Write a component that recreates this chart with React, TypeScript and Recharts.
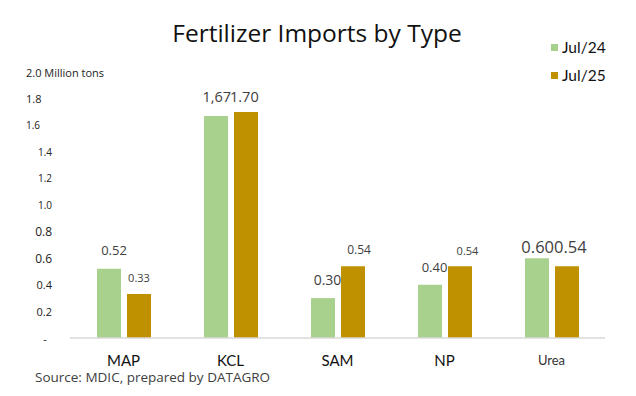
import React from "react";
import { BarChart, Bar, XAxis, YAxis, LabelList } from "recharts";

const categories = ["MAP", "KCL", "SAM", "NP", "Urea"];
const jul24 = [0.52, 1.67, 0.3, 0.4, 0.6];
const jul25 = [0.33, 1.7, 0.54, 0.54, 0.54];
const jul24Labels = ["0.52", "1,67", "0.30", "0.40", "0.60"];
const jul25Labels = ["0.33", "1.70", "0.54", "0.54", "0.54"];
const yTicks = [0, 0.2, 0.4, 0.6, 0.8, 1.0, 1.2, 1.4, 1.6, 1.8, 2.0];
const yTickLabels = ["-", "0.2", "0.4", "0.6", "0.8", "1.0", "1.2", "1.4", "1.6", "1.8", "2.0 Million tons"];
const seriesNames = ["Jul/24", "Jul/25"];

const data = categories.map((c, i) => ({ name: c, jul24: jul24[i], jul25: jul25[i] }));

const GREEN = "#a9d18e";
const GOLD = "#bf9000";
const LABEL_FONT = "'Open Sans', sans-serif";
const CAL_FONT = "Lato, sans-serif";

// per tick style: [anchor, x, fontSize]
const yTickStyle: [string, number, number][] = [
  ["middle", 45, 11],
  ["end", 52, 11],
  ["end", 52, 11],
  ["end", 52, 12],
  ["end", 52, 12],
  ["end", 52, 10],
  ["end", 52, 10],
  ["end", 52, 10],
  ["start", 26, 10],
  ["start", 26, 11],
  ["start", 26, 11],
];

// per label style: [offsetAboveTop, dx, fontSize, anchor]
const style24: [number, number, number, string][] = [
  [19, 5, 13, "middle"],
  [19, 15, 14.5, "end"],
  [19, 4.5, 14, "middle"],
  [18, 4.5, 13, "middle"],
  [12, 17, 16.5, "end"],
];
const style25: [number, number, number, string][] = [
  [17, 0, 11, "middle"],
  [15, -16, 14.5, "start"],
  [17, 6, 12, "middle"],
  [16, 7.5, 11, "middle"],
  [20, -13, 16.5, "start"],
];

const YTick = (props: any) => {
  const { y, index } = props;
  const [anchor, x, fs] = yTickStyle[index] || ["end", 52, 11];
  return (
    <text x={x} y={y} textAnchor={anchor as any} dominantBaseline="central" fontSize={fs} fill="#222" fontFamily={LABEL_FONT}>
      {yTickLabels[index]}
    </text>
  );
};

const XTick = (props: any) => {
  const { x, y, payload } = props;
  const small = payload.value === "Urea";
  return (
    <text x={x} y={y + 14} textAnchor="middle" dominantBaseline="central" fontSize={small ? 13 : 15} fill={small ? "#333" : "#111"} fontFamily={CAL_FONT}>
      {payload.value}
    </text>
  );
};

const makeLabel = (labels: string[], styles: [number, number, number, string][]) => (props: any) => {
  const { x, y, width, index } = props;
  const [off, dx, fs, anchor] = styles[index];
  return (
    <text x={x + width / 2 + dx} y={y - off} textAnchor={anchor as any} dominantBaseline="central" fontSize={fs} fill="#404040" fontFamily={LABEL_FONT}>
      {labels[index]}
    </text>
  );
};

export default function App() {
  return (
    <div style={{ position: "absolute", left: 0, top: 0, width: 636, height: 396, background: "#fff" }}>
      <div style={{ position: "absolute", left: 0, top: 16, width: 634, textAlign: "center", fontFamily: LABEL_FONT, fontSize: 24.5, color: "#111" }}>
        Fertilizer Imports by Type
      </div>
      <BarChart width={636} height={396} data={data} margin={{ top: 72, right: 31, bottom: 0, left: 20 }} barGap={6} barSize={24}>
        <XAxis dataKey="name" height={58} axisLine={{ stroke: "#d9d9d9", strokeWidth: 1.5 }} tickLine={false} tick={<XTick />} interval={0} />
        <YAxis width={50} domain={[0, 2]} ticks={yTicks} axisLine={false} tickLine={false} tick={<YTick />} interval={0} />
        <Bar dataKey="jul24" name={seriesNames[0]} fill={GREEN} isAnimationActive={false}>
          <LabelList dataKey="jul24" content={makeLabel(jul24Labels, style24)} />
        </Bar>
        <Bar dataKey="jul25" name={seriesNames[1]} fill={GOLD} isAnimationActive={false}>
          <LabelList dataKey="jul25" content={makeLabel(jul25Labels, style25)} />
        </Bar>
      </BarChart>
      <div style={{ position: "absolute", left: 551, top: 33, fontFamily: CAL_FONT, fontSize: 15.5, color: "#111" }}>
        {seriesNames.map((n, i) => (
          <div key={n} style={{ display: "flex", alignItems: "center", height: 28 }}>
            <span style={{ width: 7, height: 7, background: i === 0 ? GREEN : GOLD, marginRight: 4, display: "inline-block" }} />
            <span>{n}</span>
          </div>
        ))}
      </div>
      <div style={{ position: "absolute", left: 35, top: 368, fontFamily: "'Open Sans', sans-serif", fontSize: 13.5, color: "#404040" }}>
        Source: MDIC, prepared by DATAGRO
      </div>
    </div>
  );
}
